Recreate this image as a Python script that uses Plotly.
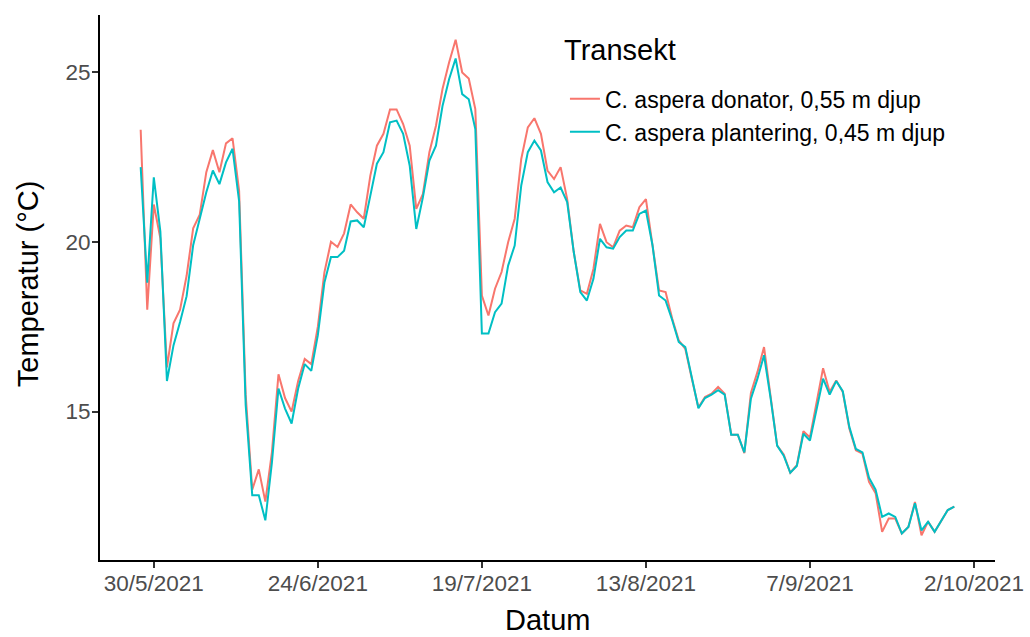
import pandas as pd
import plotly.graph_objects as go

start_date = "2021-05-28"
n_days = 125
dates = pd.date_range(start_date, periods=n_days, freq="D")

donator = [
    23.3, 18.0, 21.1, 20.1, 16.3, 17.6, 18.0, 19.0, 20.4, 20.8,
    22.05, 22.7, 22.05, 22.9, 23.05, 21.5, 15.5, 12.7, 13.3, 12.35,
    13.8, 16.1, 15.4, 15.0, 15.9, 16.55, 16.4, 17.5, 19.1, 20.0,
    19.85, 20.25, 21.1, 20.87, 20.68, 21.95, 22.83, 23.18, 23.9, 23.9,
    23.47, 22.83, 20.97, 21.4, 22.64, 23.42, 24.5, 25.28, 25.95, 24.99,
    24.81, 23.91, 18.42, 17.83, 18.62, 19.11, 19.99, 20.68, 22.44, 23.37,
    23.64, 23.18, 22.1, 21.85, 22.2, 21.26, 19.7, 18.57, 18.47, 19.2,
    20.53, 19.99, 19.84, 20.33, 20.48, 20.43, 21.02, 21.26, 19.9, 18.57,
    18.52, 17.74, 17.1, 16.85, 15.97, 15.12, 15.43, 15.53, 15.73, 15.53,
    14.32, 14.32, 13.78, 15.55, 16.17, 16.9, 15.45, 14.0, 13.74, 13.2,
    13.42, 14.42, 14.24, 15.25, 16.28, 15.58, 15.92, 15.58, 14.5, 13.86,
    13.76, 12.93, 12.6, 11.46, 11.85, 11.85, 11.41, 11.6, 12.34, 11.36,
    11.76, 11.46, 11.8, 12.1, 12.2,
]

plantering = [
    22.2, 18.8, 21.9, 20.3, 15.9, 16.95, 17.64, 18.4, 19.9, 20.7,
    21.46, 22.1, 21.7, 22.34, 22.74, 21.2, 15.2, 12.54, 12.54, 11.8,
    13.5, 15.68, 15.09, 14.65, 15.68, 16.4, 16.2, 17.25, 18.8, 19.55,
    19.55, 19.74, 20.6, 20.63, 20.43, 21.36, 22.3, 22.64, 23.52, 23.57,
    23.18, 22.24, 20.38, 21.3, 22.39, 22.83, 24.0, 24.79, 25.4, 24.35,
    24.2, 23.32, 17.3, 17.3, 17.93, 18.18, 19.3, 19.89, 21.66, 22.64,
    22.98, 22.69, 21.76, 21.46, 21.6, 21.17, 19.7, 18.52, 18.27, 18.91,
    20.09, 19.84, 19.8, 20.14, 20.33, 20.33, 20.82, 20.92, 19.9, 18.42,
    18.27, 17.7, 17.05, 16.9, 16.0, 15.1, 15.4, 15.5, 15.63, 15.5,
    14.32, 14.32, 13.8, 15.38, 15.97, 16.66, 15.4, 14.0, 13.7, 13.2,
    13.4, 14.35, 14.15, 15.1, 15.97, 15.5, 15.9, 15.6, 14.55, 13.9,
    13.8, 13.05, 12.7, 11.9, 12.0, 11.9, 11.41, 11.6, 12.3, 11.5,
    11.76, 11.46, 11.8, 12.1, 12.2,
]

series_names = ["C. aspera donator, 0,55 m djup", "C. aspera plantering, 0,45 m djup"]
series_colors = ["#F8766D", "#00BFC4"]
legend_title = "Transekt"
x_title = "Datum"
y_title = "Temperatur (\u00b0C)"

x_tick_dates = ["2021-05-30", "2021-06-24", "2021-07-19", "2021-08-13", "2021-09-07", "2021-10-02"]
x_tick_labels = ["30/5/2021", "24/6/2021", "19/7/2021", "13/8/2021", "7/9/2021", "2/10/2021"]
y_ticks = [15, 20, 25]

fig = go.Figure()
for name, vals, col in zip(series_names, [donator, plantering], series_colors):
    fig.add_trace(go.Scatter(x=dates, y=vals, mode="lines", name=name,
                             line=dict(color=col, width=2)))

# ggplot-like 5% expansion
d0 = dates[0]
d1 = dates[-1]
span = d1 - d0
xr = [d0 - span * 0.05, d1 + span * 0.05]
allv = donator + plantering
ymin, ymax = min(allv), max(allv)
yspan = ymax - ymin
yr = [ymin - 0.05 * yspan, ymax + 0.05 * yspan]

font_family = "Liberation Sans, Arial, sans-serif"
fig.update_layout(
    width=1030, height=637,
    margin=dict(l=100, r=35, t=15, b=77),
    plot_bgcolor="white", paper_bgcolor="white",
    font=dict(family=font_family, color="black"),
    showlegend=True,
    legend=dict(
        x=0.5195, y=0.8855, xanchor="left", yanchor="top",
        font=dict(size=23, color="black"),
        bgcolor="rgba(0,0,0,0)",
        tracegroupgap=0,
    ),
    xaxis=dict(
        range=xr, automargin=False,
        tickvals=x_tick_dates, ticktext=x_tick_labels,
        showgrid=False, zeroline=False,
        showline=True, linecolor="black", linewidth=2,
        ticks="outside", ticklen=6, tickwidth=1.5, tickcolor="#333333",
        tickfont=dict(size=22.5, color="#4D4D4D"),
        ticklabelstandoff=-4,
    ),
    yaxis=dict(
        range=yr, automargin=False,
        tickvals=y_ticks,
        showgrid=False, zeroline=False,
        showline=True, linecolor="black", linewidth=2,
        ticks="outside", ticklen=6, tickwidth=1.5, tickcolor="#333333",
        tickfont=dict(size=22.5, color="#4D4D4D"),
        ticklabelstandoff=-3,
    ),
    annotations=[
        dict(text=legend_title, x=(562 - 100) / 895, y=1 - (50 - 15) / 545,
             xref="paper", yref="paper", xanchor="left", yanchor="middle",
             showarrow=False, font=dict(size=29, color="black")),
        dict(text=x_title, x=0.5, y=(560 - 620) / 545,
             xref="paper", yref="paper", xanchor="center", yanchor="middle",
             showarrow=False, font=dict(size=29, color="black")),
        dict(text=y_title, x=(28 - 100) / 895, y=0.506, textangle=-90,
             xref="paper", yref="paper", xanchor="center", yanchor="middle",
             showarrow=False, font=dict(size=29, color="black")),
    ],
)

fig.write_html("out.html")
